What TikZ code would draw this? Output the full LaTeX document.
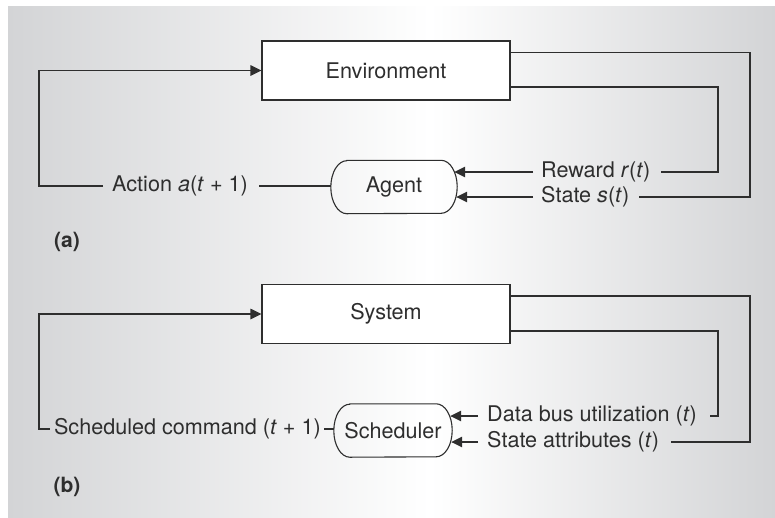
\documentclass[tikz,border=0pt]{standalone}
\usepackage{fontspec}
\setmainfont{TeX Gyre Heros}
\usetikzlibrary{arrows.meta,calc}
\definecolor{bgg}{HTML}{D3D4D6}
\definecolor{ink}{HTML}{2E2E2E}
\newcommand\pillpath[1]{\draw[ln] ([xshift=16pt]#1.north west) -- ([xshift=-16pt]#1.north east) arc[start angle=90,end angle=-90,x radius=16pt,y radius=26.5pt] -- ([xshift=16pt]#1.south west) arc[start angle=270,end angle=90,x radius=16pt,y radius=26.5pt] -- cycle;}
\begin{document}
\begin{tikzpicture}[x=1pt,y=-1pt,
 ln/.style={draw=ink,line width=1.1pt},
 arr/.style={ln,-{Triangle[length=11pt,width=10.5pt]}},
 txt/.style={font=\fontsize{21.6}{25}\selectfont,text=ink,inner sep=0pt},
 boxn/.style={txt,draw=ink,line width=1.1pt,fill=white,minimum width=248pt,minimum height=59pt},
 pilln/.style={txt,minimum height=53pt},
 tag/.style={font=\bfseries\fontsize{21}{24}\selectfont,text=ink,inner sep=0pt}]
\useasboundingbox (0,0) rectangle (775,517);
\shade[left color=bgg,right color=white] (8,6) rectangle (430,517);
\shade[left color=white,right color=bgg] (430,6) rectangle (775,517);
\coordinate (ca) at (39,0);
\coordinate (cr) at (718,0);
\coordinate (cs) at (750,0);
% ---------- (a)
\node[boxn] (env) at (386,70.5) {Environment};
\node[pilln,minimum width=126pt] (ag) at (394,187) {Agent};
\pillpath{ag}
\node[txt,anchor=west] (la) at (112,186) {Action \textit{a}(\textit{t} + 1)};
\node[txt,anchor=west] (lr) at (541,172) {Reward \textit{r}(\textit{t})};
\node[txt,anchor=west] (ls) at (541,197) {State \textit{s}(\textit{t})};
\node[tag] (ta) at (67,242) {(a)};
\draw[arr] ([xshift=-9pt]la.west) -- (la.west -| ca) |- (env.west);
\draw[ln] ([xshift=11pt]la.east) -- (la.east -| ag.west);
\draw[ln] ([yshift=-16.5pt]env.east) -| (cr |- lr.east) -- ([xshift=10pt]lr.east);
\draw[ln] ([yshift=18pt]env.east) -| (cs |- ls.east) -- ([xshift=10pt]ls.east);
\draw[arr] ([xshift=-8pt]lr.west) -- ($(lr.west -| ag.east)+(-3,0)$);
\draw[arr] ([xshift=-8pt]ls.west) -- ($(ls.west -| ag.east)+(-1,0)$);
% ---------- (b)
\node[boxn] (sys) at (386,314) {System};
\node[pilln,minimum width=118pt] (sc) at (393,430.5) {Scheduler};
\pillpath{sc}
\node[txt,anchor=east] (lc) at (321,429) {Scheduled command (\textit{t} + 1)};
\node[txt,anchor=west] (ld) at (487,416) {Data bus utilization (\textit{t})};
\node[txt,anchor=west] (lsa) at (487,442) {State attributes (\textit{t})};
\node[tag] (tb) at (67,487) {(b)};
\draw[arr] ([xshift=-4pt]lc.west) -- (lc.west -| ca) |- (sys.west);
\draw[ln] ([xshift=3pt]lc.east) -- (lc.east -| sc.west);
\draw[ln] ([yshift=-17pt]sys.east) -| (cr |- ld.east) -- ([xshift=13pt]ld.east);
\draw[ln] ([yshift=18pt]sys.east) -| (cs |- lsa.east) -- ([xshift=12pt]lsa.east);
\draw[arr] ([xshift=-9pt]ld.west) -- ($(ld.west -| sc.east)+(-2,0)$);
\draw[arr] ([xshift=-9pt]lsa.west) -- ($(lsa.west -| sc.east)+(-1,0)$);
\end{tikzpicture}
\end{document}
